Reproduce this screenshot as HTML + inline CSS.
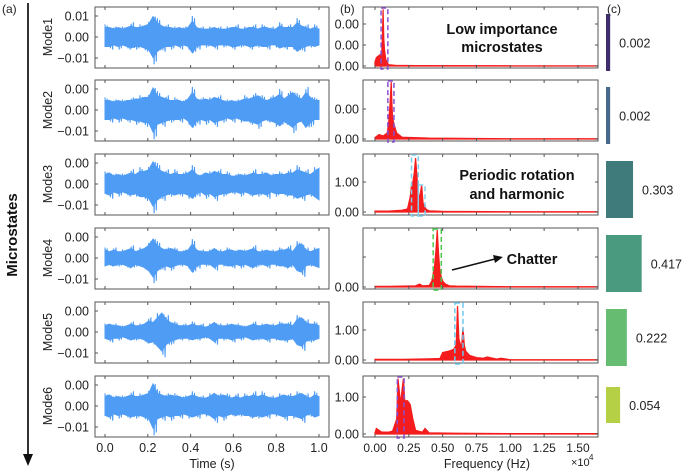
<!DOCTYPE html>
<html><head><meta charset="utf-8">
<style>
body{margin:0;background:#fff;}
svg{display:block;font-family:"Liberation Sans",sans-serif;}
</style></head>
<body>
<svg id="chart" width="685" height="472" viewBox="0 0 685 472" xmlns="http://www.w3.org/2000/svg">
<text x="2" y="13" font-size="12" fill="#222">(a)</text>
<text x="340" y="13" font-size="12" fill="#222">(b)</text>
<text x="607" y="13" font-size="12" fill="#222">(c)</text>
<line x1="28" y1="3" x2="28" y2="456" stroke="#333" stroke-width="2"/>
<polygon points="23,454 33,454 28,466" fill="#111"/>
<text transform="translate(17,235) rotate(-90)" text-anchor="middle" font-size="15" font-weight="bold" fill="#111">Microstates</text>
<g id="g"></g>
</svg>
<script>
const modeNames=["Mode1","Mode2","Mode3","Mode4","Mode5","Mode6"];
const weights=[0.002,0.002,0.303,0.417,0.222,0.054];
const weightLabels=["0.002","0.002","0.303","0.417","0.222","0.054"];
const timeTicks=[0,0.2,0.4,0.6,0.8,1.0];
const timeTickLabels=["0.0","0.2","0.4","0.6","0.8","1.0"];
const freqTicks=[0,0.25,0.5,0.75,1.0,1.25,1.5];
const freqTickLabels=["0.00","0.25","0.50","0.75","1.00","1.25","1.50"];
const leftTickLabels=[["0.01","0.00","\u22120.01"],["0.00","0.00","\u22120.01"],["0.00","0.00","\u22120.01"],["0.00","0.00","\u22120.01"],["0.00","0.00","\u22120.01"],["0.00","0.00","\u22120.01"]];
// waveform envelopes (x1e-3)
const amp1=[6,6,5,6,5,6,7,6,6,7,8,13,9,7,6,6,5,6,5,6,10,6,5,5,5,6,5,5,5,6,6,5,5,6,6,5,6,6,5,5,7,6,6,6,9,7,6,5,6,5];
const amp2=[6,6,5,6,5,6,6,7,7,8,8,14,9,8,7,6,6,6,5,7,11,7,6,7,6,8,7,6,5,6,5,6,7,7,8,9,7,6,7,8,10,7,9,11,8,7,11,8,6,6];
const amp3=[6,7,5,6,5,6,7,6,8,8,9,14,10,8,7,6,7,6,6,7,9,6,5,7,6,8,7,6,6,5,5,6,5,6,7,6,6,7,5,6,6,6,7,7,9,8,7,6,8,10];
const amp4=[5,4,5,4,4,5,6,4,5,6,8,12,8,6,5,6,5,4,4,5,9,5,4,4,4,6,4,4,5,5,4,5,4,5,6,4,4,5,4,4,5,5,6,4,8,9,5,4,5,6];
const amp5=[4,5,4,4,3,4,5,4,4,5,7,6,9,12,8,6,5,4,4,4,5,4,4,3,4,6,4,4,4,5,4,4,3,4,5,4,4,5,4,4,5,5,5,4,8,9,6,5,5,4];
const amp6=[6,7,5,6,5,6,7,6,6,7,8,14,8,7,6,7,6,6,5,6,7,6,5,5,6,8,6,7,6,5,6,5,6,6,7,6,7,6,5,5,6,7,6,6,7,8,6,5,7,6];
const amps=[amp1,amp2,amp3,amp4,amp5,amp6];
// spectra: frequency (x1e4) and amplitude
const f1=[0,0.01,0.03,0.05,0.055,0.06,0.065,0.07,0.08,0.1,0.15,0.3,1.0,1.64];
const s1=[0.2,0.4,0.5,0.6,1.5,2.7,1.3,0.8,0.3,0.06,0.03,0.02,0.01,0.01];
const f2=[0,0.03,0.06,0.09,0.1,0.11,0.12,0.125,0.13,0.14,0.16,0.2,0.4,1.0,1.64];
const s2=[0.05,0.15,0.1,0.2,0.5,1.1,1.9,1.2,0.7,0.5,0.2,0.06,0.03,0.01,0.01];
const f3=[0,0.1,0.2,0.24,0.26,0.27,0.28,0.29,0.30,0.31,0.32,0.33,0.345,0.355,0.365,0.38,0.4,0.5,1.0,1.64];
const s3=[0.03,0.03,0.06,0.1,0.5,0.9,1.0,1.3,1.8,1.2,0.6,0.5,0.9,0.3,0.2,0.08,0.04,0.02,0.01,0.01];
const f4=[0,0.1,0.2,0.3,0.33,0.35,0.4,0.42,0.44,0.45,0.46,0.47,0.48,0.5,0.52,0.55,0.6,1.0,1.64];
const s4=[0.02,0.02,0.03,0.04,0.1,0.04,0.05,0.2,0.7,1.2,1.9,1.1,0.5,0.2,0.1,0.04,0.03,0.01,0.01];
const f5=[0,0.2,0.4,0.48,0.5,0.55,0.58,0.6,0.61,0.62,0.64,0.65,0.66,0.67,0.7,0.75,0.8,0.83,0.9,0.93,1.0,1.64];
const s5=[0.02,0.02,0.04,0.05,0.25,0.3,0.35,0.5,1.8,0.7,0.4,1.1,0.5,0.3,0.15,0.08,0.06,0.1,0.03,0.06,0.01,0.01];
const f6=[0,0.01,0.05,0.1,0.13,0.16,0.17,0.19,0.2,0.21,0.22,0.24,0.26,0.28,0.3,0.35,0.37,0.4,0.6,1.0,1.64];
const s6=[0.03,0.15,0.05,0.05,0.08,0.4,1.5,0.8,1.2,1.5,0.9,0.9,0.8,0.4,0.1,0.05,0.15,0.03,0.02,0.01,0.01];
const freqs=[f1,f2,f3,f4,f5,f6];
const specs=[s1,s2,s3,s4,s5,s6];
const barColors=["#402d6e","#476a8c","#3f7b7b","#4a9a80","#66bd72","#b5d045"];
const boxColors=["#8a4fd0","#8a4fd0","#7fd0f0","#4cc74c","#6cc8f0","#8a4fd0"];

const NS="http://www.w3.org/2000/svg";
const G=document.getElementById('g');
function mk(tag,attrs,parent){const e=document.createElementNS(NS,tag);for(const k in attrs)e.setAttribute(k,attrs[k]);(parent||G).appendChild(e);return e;}
const tops=[7,80,154,228,302,376];
const PH=61;
const tx=t=>105+214*t;
const fx=f=>375+135.3*f;
const yZero=[66,139,212,287,360,434];
const yPer=[21,30,30,30,30,37];
const rightTicks=[[0,1,2],[0,1],[0,1],[0,1],[0,1],[0,1]];
const rightLabels=[["0.00","0.00","0.00"],["0.00","0.00"],["0.00","1.00"],["0.00",""],["0.00","1.00"],["0.00","1.00"]];
const boxes=[[[0.045,0.095]],[[0.095,0.14]],[[0.27,0.32],[0.32,0.37]],[[0.43,0.49]],[[0.59,0.65]],[[0.165,0.215]]];
const zig=[1,0.75,0.9,0.7];

for(let m=0;m<6;m++){
  const top=tops[m], bot=top+PH, cy=top+30;
  const yl=v=>cy-v*2.1;
  const lp=mk('rect',{x:95,y:top,width:234,height:PH,fill:'#fff',stroke:'#555','stroke-width':1});
  
  
  const a=amps[m];const dt=1/(a.length-1);
  // filled band
  let up=[],dn=[];
  for(let i=0;i<a.length;i++){up.push(tx(i*dt)+','+yl(a[i]*0.75));dn.unshift(tx(i*dt)+','+yl(-a[i]*0.75));}
  const band=mk('polygon',{points:up.concat(dn).join(' '),fill:'#4f9cf5',stroke:'#4f9cf5','stroke-width':1});
  
  
  let pts=[];const sub=4;
  for(let i=0;i<a.length-1;i++){for(let k=0;k<sub;k++){const t=i*dt+dt*k/sub;const av=a[i]+(a[i+1]-a[i])*0;const s=(k%2==0?1:-1)*zig[(i+k)%4];pts.push(tx(t)+','+yl(av*s));}}
  const wl=mk('polyline',{points:pts.join(' '),fill:'none',stroke:'#4f9cf5','stroke-width':1.1,'stroke-linejoin':'bevel'});
  
  
  [10,0,-10].forEach((v,k)=>{
    mk('line',{x1:95,y1:yl(v),x2:98,y2:yl(v),stroke:'#555'});
    const t=mk('text',{x:89,y:yl(v)+4.5,'text-anchor':'end','font-size':12.5,fill:'#222'});t.textContent=leftTickLabels[m][k];
    
  });
  timeTicks.forEach((t,k)=>{mk('line',{x1:tx(t),y1:bot,x2:tx(t),y2:bot-3,stroke:'#555'});mk('line',{x1:tx(t),y1:top,x2:tx(t),y2:top+3,stroke:'#555'});});
  const ml=mk('text',{transform:`translate(52,${cy}) rotate(-90)`,'text-anchor':'middle','font-size':12.5,fill:'#222'});ml.textContent=modeNames[m];
  

  const mp=mk('rect',{x:363,y:top,width:235,height:PH,fill:'#fff',stroke:'#555','stroke-width':1});
  
  
  const y0=yZero[m],yp=yPer[m];const ys=v=>y0-v*yp;
  const f=freqs[m],s=specs[m];let sp=[fx(f[0])+','+y0];
  for(let i=0;i<f.length;i++)sp.push(fx(f[i])+','+ys(s[i]));
  sp.push(fx(f[f.length-1])+','+y0);
  const spec=mk('polygon',{points:sp.join(' '),fill:'#f41c1c',stroke:'#f41c1c','stroke-width':1.2});
  
  boxes[m].forEach(b=>{const sec=(m==2&&b[0]>0.3);const bx=mk('rect',{x:fx(b[0]),y:sec?ys(0.9):top+1,width:fx(b[1])-fx(b[0]),height:sec?bot-ys(0.9)+1:PH,fill:'none',stroke:boxColors[m],'stroke-width':1.5,'stroke-dasharray':'5,3'});});
  rightTicks[m].forEach((v,k)=>{
    mk('line',{x1:363,y1:ys(v),x2:366,y2:ys(v),stroke:'#555'});mk('line',{x1:598,y1:ys(v),x2:595,y2:ys(v),stroke:'#555'});
    const t=mk('text',{x:359,y:ys(v)+4.5,'text-anchor':'end','font-size':12.5,fill:'#222'});t.textContent=rightLabels[m][k];
    
  });
  freqTicks.forEach(t=>{mk('line',{x1:fx(t),y1:bot,x2:fx(t),y2:bot-3,stroke:'#555'});mk('line',{x1:fx(t),y1:top,x2:fx(t),y2:top+3,stroke:'#555'});});

  const bw=4+76*weights[m]+(m==5?6:0);
  const bh=m==5?36:57, by=m==5?387:top+7;
  const br=mk('rect',{x:606,y:by,width:bw,height:bh,fill:barColors[m]});
  
  const wt=mk('text',{x:606+bw+9,y:by+bh/2+5,'font-size':12.5,fill:'#222'});wt.textContent=weightLabels[m];
  
}
timeTicks.forEach((t,k)=>{const e=mk('text',{x:tx(t),y:452,'text-anchor':'middle','font-size':12.5,fill:'#222'});e.textContent=timeTickLabels[k];});
freqTicks.forEach((t,k)=>{const e=mk('text',{x:fx(t),y:452,'text-anchor':'middle','font-size':12,fill:'#222'});e.textContent=freqTickLabels[k];});
const tt=mk('text',{x:212,y:468,'text-anchor':'middle','font-size':12.5,fill:'#222'});tt.textContent='Time (s)';
const ft=mk('text',{x:487,y:468,'text-anchor':'middle','font-size':12.5,fill:'#222'});ft.textContent='Frequency (Hz)';
const ex=mk('text',{x:571,y:466,'font-size':11,fill:'#222'});ex.textContent='\u00d710';
const ex2=mk('text',{x:589,y:460,'font-size':8,fill:'#222'});ex2.textContent='4';
function note(x,y,str,name){const e=mk('text',{x:x,y:y,'text-anchor':'middle','font-size':14.5,'font-weight':'bold',fill:'#111'});e.textContent=str;}
note(502,34,'Low importance','annotation-low-importance');
note(502,52,'microstates','annotation-low-importance-2');
note(517,180,'Periodic rotation','annotation-periodic');
note(517,199,'and harmonic','annotation-periodic-2');
note(532,264,'Chatter','annotation-chatter');
const ar=mk('line',{x1:452,y1:270,x2:495,y2:259,stroke:'#111','stroke-width':1.5});
const ah=mk('polygon',{points:'503,257 493,255 495,263',fill:'#111'});
</script>
</body></html>
